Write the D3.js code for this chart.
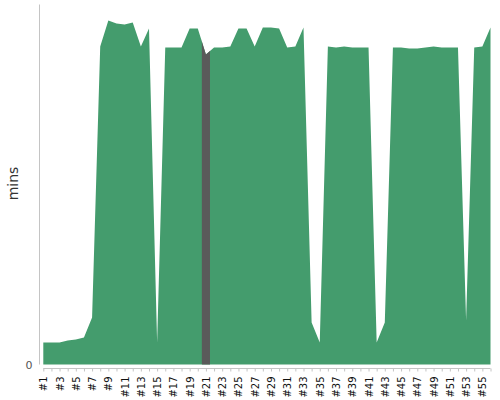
<!DOCTYPE html>
<html>
<head>
<meta charset="utf-8">
<script src="https://cdn.jsdelivr.net/npm/d3@7"></script>
<style>
  body { margin: 0; background: #fff; font-family: "DejaVu Sans", sans-serif; }
  .axis path, .axis line { stroke: #c4c4c4; }
</style>
</head>
<body>
<script>
// ********************************** //
// ** Data
// ********************************** //
const categories = [
  "#1", "#2", "#3", "#4", "#5", "#6", "#7", "#8", "#9", "#10",
  "#11", "#12", "#13", "#14", "#15", "#16", "#17", "#18", "#19", "#20",
  "#21", "#22", "#23", "#24", "#25", "#26", "#27", "#28", "#29", "#30",
  "#31", "#32", "#33", "#34", "#35", "#36", "#37", "#38", "#39", "#40",
  "#41", "#42", "#43", "#44", "#45", "#46", "#47", "#48", "#49", "#50",
  "#51", "#52", "#53", "#54", "#55", "#56"
];
const mins = [
  22, 22, 22, 24, 25, 27, 47, 318, 344, 341,
  340, 342, 318, 336, 22, 317, 317, 317, 336, 336,
  310, 317, 317, 318, 336, 336, 318, 337, 337, 336,
  317, 318, 337, 42, 22, 318, 317, 318, 317, 317,
  317, 22, 42, 317, 317, 316, 316, 317, 318, 317,
  317, 317, 44, 317, 318, 337
];
const highlighted = "#21";
const yTicks = [0];
const yMax = 360;

// ********************************** //
// ** DOM
// ********************************** //
const width = 500;
const height = 400;

const svg = d3
  .select("body")
  .append("svg")
  .attr("width", width)
  .attr("height", height);

const x = d3.scalePoint().domain(categories).range([43.3, 490.5]);
const y = d3.scaleLinear().domain([0, yMax]).range([364.5, 4.5]);
const step = x.step();

const data = categories.map((c, i) => ({ cat: c, value: mins[i] }));

const area = d3
  .area()
  .x(d => x(d.cat))
  .y0(y(0))
  .y1(d => y(d.value));

// highlighted slice of the area
svg
  .append("clipPath")
  .attr("id", "hl-clip")
  .append("rect")
  .attr("x", x(highlighted) - step / 2)
  .attr("y", 0)
  .attr("width", step)
  .attr("height", height);

svg
  .append("path")
  .datum(data)
  .attr("fill", "#449c6d")
  .attr("d", area);

svg
  .append("path")
  .datum(data)
  .attr("fill", "#5a5a5a")
  .attr("clip-path", "url(#hl-clip)")
  .attr("d", area);

// ********************************** //
// ** Axes
// ********************************** //
const yAxis = svg
  .append("g")
  .attr("class", "axis")
  .attr("transform", "translate(39.5,0)")
  .call(
    d3
      .axisLeft(y)
      .tickValues(yTicks)
      .tickSize(0)
      .tickPadding(7)
  );
yAxis.select(".domain").attr("d", `M0,${y(yMax)}V${y(0)}`);
yAxis
  .selectAll("text")
  .attr("fill", "#555")
  .style("font-size", "11px")
  .style("font-family", "DejaVu Sans, sans-serif");

const xAxis = svg
  .append("g")
  .attr("class", "axis")
  .attr("transform", "translate(0,368.5)")
  .call(
    d3
      .axisBottom(x)
      .tickSize(3)
      .tickSizeOuter(0)
      .tickFormat((d, i) => (i % 2 === 0 ? d : ""))
  );
xAxis.select(".domain").attr("d", `M${x.range()[0]},0H${x.range()[1]}`);
xAxis
  .selectAll("text")
  .attr("fill", "#111")
  .style("font-size", "10px")
  .style("font-family", "DejaVu Sans, sans-serif")
  .attr("text-anchor", "end")
  .attr("transform", "rotate(-90)")
  .attr("x", -8)
  .attr("y", 0)
  .attr("dy", "0.35em");

// axis title
svg
  .append("text")
  .attr("transform", "translate(18,183.5) rotate(-90)")
  .attr("text-anchor", "middle")
  .attr("fill", "#333")
  .style("font-size", "14px")
  .style("font-family", "DejaVu Sans, sans-serif")
  .text("mins");
</script>
</body>
</html>
